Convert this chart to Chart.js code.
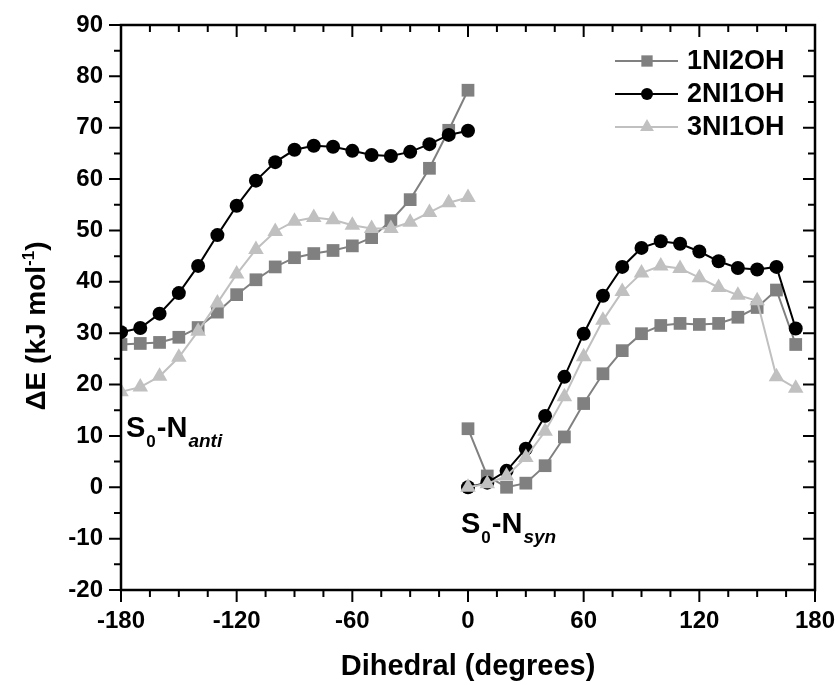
<!DOCTYPE html>
<html>
<head>
<meta charset="utf-8">
<script src="https://cdn.jsdelivr.net/npm/chart.js@4.4.1/dist/chart.umd.min.js"></script>
<style>
  html, body { margin: 0; padding: 0; background: #fff; }
  #wrap { width: 835px; height: 685px; }
</style>
</head>
<body>
<div id="wrap"><canvas id="energyChart" width="835" height="685"></canvas></div>
<script>
// dihedral angles (degrees)
var anglesAnti = [-180, -170, -160, -150, -140, -130, -120, -110, -100, -90, -80, -70, -60, -50, -40, -30, -20, -10, 0];
var anglesSyn = [0, 10, 20, 30, 40, 50, 60, 70, 80, 90, 100, 110, 120, 130, 140, 150, 160, 170];

// relative energies, kJ/mol
var anti1NI2OH = [27.8, 28.0, 28.2, 29.2, 31.1, 34.1, 37.5, 40.4, 42.9, 44.7, 45.5, 46.1, 47.0, 48.6, 51.9, 56.0, 62.1, 69.5, 77.3];
var syn1NI2OH  = [11.4, 2.2, 0.0, 0.8, 4.2, 9.8, 16.3, 22.1, 26.6, 29.9, 31.5, 31.9, 31.7, 31.9, 33.1, 35.0, 38.4, 27.8];
var anti2NI1OH = [30.2, 31.0, 33.8, 37.8, 43.1, 49.1, 54.8, 59.7, 63.3, 65.7, 66.5, 66.3, 65.5, 64.7, 64.5, 65.3, 66.8, 68.6, 69.4];
var syn2NI1OH  = [0.0, 0.9, 3.2, 7.5, 13.9, 21.5, 29.9, 37.3, 42.9, 46.6, 47.9, 47.4, 45.9, 44.0, 42.7, 42.4, 42.9, 30.9];
var anti3NI1OH = [18.6, 19.5, 21.6, 25.3, 30.4, 35.9, 41.5, 46.3, 49.8, 51.8, 52.5, 52.1, 51.0, 50.4, 50.4, 51.6, 53.5, 55.4, 56.4];
var syn3NI1OH  = [0.0, 0.7, 2.2, 5.8, 10.9, 17.6, 25.4, 32.5, 38.1, 41.7, 43.1, 42.6, 40.8, 38.9, 37.4, 36.3, 21.5, 19.3];

var seriesNames = ['1NI2OH', '2NI1OH', '3NI1OH'];
var seriesColors = ['#808080', '#000000', '#c0c0c0'];
var seriesMarkers = ['rect', 'circle', 'triangle'];

var font = '"Liberation Sans", Arial, sans-serif';

// join the two branches with a gap at 0
function branches(anti, syn) {
    var pts = anglesAnti.map(function(x, i) { return { x: x, y: anti[i] }; });
    pts.push({ x: 0, y: null });
    return pts.concat(anglesSyn.map(function(x, i) { return { x: x, y: syn[i] }; }));
}

function makeSet(idx, pts, radius, order) {
    return {
        label: seriesNames[idx],
        data: pts,
        borderColor: seriesColors[idx],
        backgroundColor: seriesColors[idx],
        borderWidth: 2,
        pointStyle: seriesMarkers[idx],
        pointRadius: radius,
        pointHoverRadius: radius,
        pointBorderWidth: 0,
        spanGaps: false,
        tension: 0,
        order: order
    };
}

// keep the plot box fixed, ignore label overhang
function fixBox(size, horizontal) {
    return function(scale) {
        if (horizontal) scale.height = size; else scale.width = size;
        scale.paddingLeft = scale.paddingRight = scale.paddingTop = scale.paddingBottom = 0;
    };
}

// frame, ticks, titles, legend and labels
var decorations = {
    id: 'decorations',
    afterDraw: function(chart) {
        var ctx = chart.ctx;
        var a = chart.chartArea;
        var xs = chart.scales.x, ys = chart.scales.y;
        ctx.save();
        ctx.strokeStyle = '#000';
        ctx.lineWidth = 2.5;
        ctx.strokeRect(a.left, a.top, a.right - a.left, a.bottom - a.top);

        ctx.lineWidth = 2;
        ctx.beginPath();
        for (var v = -20; v <= 90; v += 5) {
            var len = (v % 10 === 0) ? 12 : 7;
            var py = ys.getPixelForValue(v);
            ctx.moveTo(a.left - len, py); ctx.lineTo(a.left, py);
            ctx.moveTo(a.right - len, py); ctx.lineTo(a.right, py);
        }
        for (var d = -180; d <= 180; d += 15) {
            var l2 = (d % 60 === 0) ? 12 : 7;
            var px = xs.getPixelForValue(d);
            ctx.moveTo(px, a.bottom); ctx.lineTo(px, a.bottom + l2);
            ctx.moveTo(px, a.top); ctx.lineTo(px, a.top + l2);
        }
        ctx.stroke();

        ctx.fillStyle = '#000';
        // x title
        ctx.font = 'bold 29px ' + font;
        ctx.textAlign = 'center';
        ctx.textBaseline = 'alphabetic';
        ctx.fillText('Dihedral (degrees)', (a.left + a.right) / 2, 675);

        // y title with superscript
        ctx.save();
        ctx.translate(45, 326);
        ctx.rotate(-Math.PI / 2);
        ctx.textAlign = 'left';
        var big = 'bold 28px ' + font, small = 'bold 17px ' + font;
        ctx.font = big; var w1 = ctx.measureText('\u0394E (kJ mol').width;
        ctx.font = small; var w2 = ctx.measureText('-1').width;
        ctx.font = big; var w3 = ctx.measureText(')').width;
        var sx = -(w1 + w2 + w3) / 2;
        ctx.font = big; ctx.fillText('\u0394E (kJ mol', sx, 0);
        ctx.font = small; ctx.fillText('-1', sx + w1, -11);
        ctx.font = big; ctx.fillText(')', sx + w1 + w2, 0);
        ctx.restore();

        // S0-N labels
        function label(x, y, tail) {
            var parts = [
                { t: 'S', f: 'bold 29px ' + font, dy: 0 },
                { t: '0', f: 'bold 17px ' + font, dy: 10 },
                { t: '-N', f: 'bold 29px ' + font, dy: 0 },
                { t: tail, f: 'italic bold 19px ' + font, dy: 10 }
            ];
            ctx.textAlign = 'left';
            parts.forEach(function(p) {
                ctx.font = p.f;
                ctx.fillText(p.t, x, y + p.dy);
                x += ctx.measureText(p.t).width + 1;
            });
        }
        label(126, 437, 'anti');
        label(461, 533, 'syn');

        // legend
        var rows = [61, 94, 127];
        chart.data.datasets.forEach(function(ds) {
            var i = seriesNames.indexOf(ds.label);
            var ry = rows[i];
            ctx.strokeStyle = seriesColors[i];
            ctx.fillStyle = seriesColors[i];
            ctx.lineWidth = 2;
            ctx.beginPath();
            ctx.moveTo(615, ry); ctx.lineTo(678, ry);
            ctx.stroke();
            Chart.helpers.drawPoint(ctx, { pointStyle: seriesMarkers[i], radius: i === 1 ? 6 : 8, borderWidth: 0, rotation: 0 }, 647, ry);
            ctx.fillStyle = '#000';
            ctx.font = 'bold 27px ' + font;
            ctx.textAlign = 'left';
            ctx.textBaseline = 'middle';
            ctx.fillText(ds.label, 687, ry + 1);
            ctx.textBaseline = 'alphabetic';
        });
        ctx.restore();
    }
};

var ctx = document.getElementById('energyChart').getContext('2d');
var energyChart = new Chart(ctx, {
    type: 'line',
    data: {
        datasets: [
            makeSet(0, branches(anti1NI2OH, syn1NI2OH), 9, 3),
            makeSet(1, branches(anti2NI1OH, syn2NI1OH), 7, 2),
            makeSet(2, branches(anti3NI1OH, syn3NI1OH), 9, 1)
        ]
    },
    options: {
        responsive: false,
        animation: false,
        layout: { padding: { left: 0, top: 25, right: 20, bottom: 0 } },
        scales: {
            x: {
                type: 'linear',
                min: -180,
                max: 180,
                afterFit: fixBox(95, true),
                ticks: {
                    stepSize: 60,
                    padding: 17,
                    color: '#000',
                    font: { size: 24, family: font, weight: 'bold' }
                },
                grid: { display: false, drawTicks: false },
                border: { display: false }
            },
            y: {
                min: -20,
                max: 90,
                afterFit: fixBox(121, false),
                ticks: {
                    stepSize: 10,
                    padding: 18,
                    color: '#000',
                    font: { size: 24, family: font, weight: 'bold' }
                },
                grid: { display: false, drawTicks: false },
                border: { display: false }
            }
        },
        plugins: {
            legend: { display: false },
            tooltip: { enabled: false }
        }
    },
    plugins: [decorations]
});
</script>
</body>
</html>
